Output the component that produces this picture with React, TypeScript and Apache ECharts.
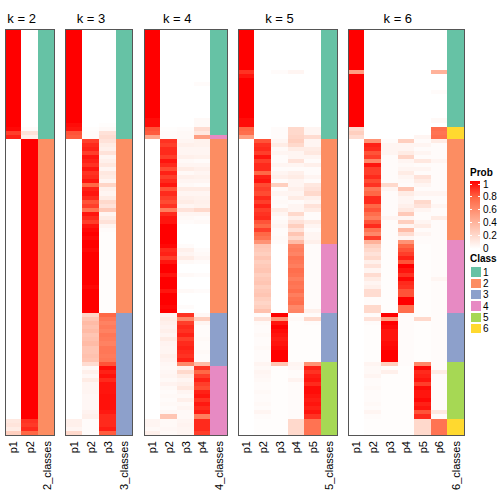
import React, { useEffect, useRef } from "react";
import * as echarts from "echarts";

const FONT = "'Liberation Sans', Arial, Helvetica, sans-serif";

// ---- data (rows share the same sample order across panels) ----
const k2p1 = [
  1,1,1,1,1,1,1,1,1,1, 1,1,1,1,1,1,1,1,1,1,
  1,1,1,1,0.98,0.85,0.92,0,0,0, 0,0,0,0,0,0,0,0,0,0,
  0,0,0,0,0,0,0,0,0,0, 0,0,0,0,0,0,0,0,0,0,
  0,0,0,0,0,0,0,0,0,0, 0,0,0,0,0,0,0,0,0,0,
  0,0,0,0,0,0,0,0,0,0, 0,0,0,0,0,0,0.12,0.14,0.1,0.25];
const k2p2 = [
  0,0,0,0,0,0,0,0,0,0, 0,0,0,0,0,0,0,0,0,0,
  0,0,0,0,0.02,0.15,0.08,1,1,1, 1,1,1,1,1,1,1,1,1,1,
  1,1,1,1,1,1,1,1,1,1, 1,1,1,1,1,1,1,1,1,1,
  1,1,1,1,1,1,1,1,1,1, 1,1,1,1,1,1,1,1,1,1,
  1,1,1,1,1,1,1,1,1,1, 1,1,1,1,1,1,0.88,0.86,0.9,0.75];
const k2cls = [
  1,1,1,1,1,1,1,1,1,1, 1,1,1,1,1,1,1,1,1,1,
  1,1,1,1,1,1,1,2,2,2, 2,2,2,2,2,2,2,2,2,2,
  2,2,2,2,2,2,2,2,2,2, 2,2,2,2,2,2,2,2,2,2,
  2,2,2,2,2,2,2,2,2,2, 2,2,2,2,2,2,2,2,2,2,
  2,2,2,2,2,2,2,2,2,2, 2,2,2,2,2,2,2,2,2,2];

const k3p1 = [
  1,1,1,1,1,1,1,1,1,1, 1,1,1,1,1,1,1,1,1,1,
  1,1,1,0.97,0.95,0.8,0.78,0,0,0, 0,0,0,0,0,0,0,0,0,0,
  0,0,0,0,0,0,0,0,0,0, 0,0,0,0,0,0,0,0,0,0,
  0,0,0,0,0,0,0,0,0,0, 0,0,0,0,0,0,0,0,0,0,
  0,0,0,0,0,0,0,0,0,0, 0,0,0,0,0,0,0.08,0.08,0.05,0.2];
const k3p2 = [
  0,0,0,0,0,0,0,0,0,0, 0,0,0,0,0,0,0,0,0,0,
  0,0,0,0,0.01,0.02,0.02,0.85,0.9,0.92, 0.85,0.95,0.92,0.88,0.95,0.88,0.9,0.95,0.75,0.92,
  0.95,0.9,0.8,0.85,0.7,0.95,0.9,0.85,0.95,0.98, 1,0.98,1,1,0.98,1,1,1,1,1,
  1,1,1,0.98,1,1,1,1,1,1, 0.22,0.3,0.35,0.32,0.35,0.3,0.32,0.35,0.3,0.3,
  0.32,0.3,0.18,0.03,0.08,0.04,0.1,0.05,0.05,0.05, 0.04,0.04,0.04,0.04,0.06,0.08,0.02,0.02,0.02,0.02];
const k3p3 = [
  0,0,0,0,0,0,0,0,0,0, 0,0,0,0,0,0,0,0,0,0,
  0,0,0,0.01,0.03,0.15,0.18,0.15,0.1,0.08, 0.15,0.05,0.08,0.12,0.05,0.12,0.1,0.05,0.22,0.08,
  0.05,0.1,0.2,0.15,0.28,0.05,0.1,0.15,0.05,0.02, 0.01,0.01,0.01,0.01,0.01,0.01,0.01,0.01,0.01,0.01,
  0.01,0.01,0.01,0.01,0.01,0.01,0.01,0.01,0.01,0.01, 0.75,0.68,0.63,0.66,0.63,0.68,0.66,0.63,0.68,0.68,
  0.66,0.68,0.8,0.97,0.92,0.96,0.9,0.95,0.95,0.95, 0.96,0.96,0.96,0.96,0.94,0.9,0.9,0.9,0.93,0.78];
const k3cls = [
  1,1,1,1,1,1,1,1,1,1, 1,1,1,1,1,1,1,1,1,1,
  1,1,1,1,1,1,1,2,2,2, 2,2,2,2,2,2,2,2,2,2,
  2,2,2,2,2,2,2,2,2,2, 2,2,2,2,2,2,2,2,2,2,
  2,2,2,2,2,2,2,2,2,2, 3,3,3,3,3,3,3,3,3,3,
  3,3,3,3,3,3,3,3,3,3, 3,3,3,3,3,3,3,3,3,3];

const k4p1 = [
  1,1,1,1,1,1,1,1,1,1, 1,1,1,1,1,1,1,1,1,1,
  1,1,0.97,0.97,0.8,0.78,0.45,0,0,0, 0,0,0,0,0,0,0,0,0,0,
  0,0,0,0,0,0,0,0,0,0, 0,0,0,0,0,0,0,0,0,0,
  0,0,0,0,0,0,0,0,0,0, 0,0,0,0,0,0,0,0,0,0,
  0,0,0,0,0,0,0,0,0,0, 0,0,0,0,0,0,0.05,0.05,0.03,0.08];
const k4p2 = [
  0,0,0,0,0,0,0,0,0,0, 0,0,0,0,0,0,0,0,0,0,
  0,0,0,0,0.01,0.02,0.02,0.88,0.85,0.9, 0.9,0.85,0.95,0.9,0.82,0.92,0.85,0.9,0.95,0.8,
  0.9,0.85,0.82,0.88,0.65,0.9,0.95,0.95,1,1, 1,1,1,0.98,0.9,0.92,0.85,0.95,1,1,
  0.95,1,1,1,0.95,1,1,1,0.98,1, 0.06,0.1,0.08,0.06,0.08,0.05,0.1,0.06,0.05,0.05,
  0.08,0.06,0.04,0.03,0.04,0.05,0.03,0.06,0.03,0.02, 0.03,0.02,0.03,0.02,0.04,0.3,0.03,0.03,0.04,0.03];
const k4p3 = [
  0,0,0,0,0,0,0,0,0,0, 0,0,0,0,0,0,0,0,0,0,
  0,0,0,0,0.02,0.03,0.03,0.05,0.08,0.05, 0.05,0.08,0.03,0.05,0.1,0.03,0.08,0.05,0.03,0.1,
  0.05,0.08,0.1,0.05,0.15,0.05,0.03,0.02,0,0, 0,0,0,0.02,0.08,0.05,0.1,0.03,0,0,
  0.03,0,0,0,0.03,0,0,0,0.02,0, 0.88,0.6,0.85,0.9,0.88,0.92,0.85,0.9,0.92,0.9,
  0.88,0.92,0.6,0.08,0.2,0.1,0.05,0.08,0.12,0.05, 0.03,0.08,0.03,0.05,0.03,0.03,0.05,0.06,0.05,0.05];
const k4p4 = [
  0,0,0,0,0,0,0,0,0,0, 0,0,0,0.02,0,0,0,0,0,0,
  0,0,0.03,0.03,0.18,0.12,0.5,0.07,0.07,0.05, 0.05,0.07,0.02,0.05,0.08,0.05,0.07,0.05,0.02,0.1,
  0.05,0.07,0.08,0.07,0.2,0.05,0.02,0.03,0,0, 0,0,0,0,0.02,0.03,0.05,0.02,0,0,
  0.02,0,0,0,0.02,0,0,0,0,0, 0.04,0.25,0.05,0.02,0.02,0.02,0.03,0.02,0.02,0.03,
  0.02,0.02,0.35,0.88,0.75,0.85,0.92,0.85,0.82,0.92, 0.95,0.88,0.94,0.9,0.93,0.65,0.9,0.9,0.9,0.85];
const k4cls = [
  1,1,1,1,1,1,1,1,1,1, 1,1,1,1,1,1,1,1,1,1,
  1,1,1,1,1,1,4,2,2,2, 2,2,2,2,2,2,2,2,2,2,
  2,2,2,2,2,2,2,2,2,2, 2,2,2,2,2,2,2,2,2,2,
  2,2,2,2,2,2,2,2,2,2, 3,3,3,3,3,3,3,3,3,3,
  3,3,3,4,4,4,4,4,4,4, 4,4,4,4,4,4,4,4,4,4];

const k5p1 = [
  1,1,1,1,1,1,1,1,1,1, 0.88,0.95,1,1,1,1,1,1,1,1,
  1,1,0.97,0.97,0.75,0.72,0.5,0,0,0, 0,0,0,0,0,0,0,0,0,0,
  0,0,0,0,0,0,0,0,0,0, 0,0,0,0,0,0,0,0,0,0,
  0,0,0,0,0,0,0,0,0,0, 0,0,0,0,0,0,0,0,0,0,
  0,0,0,0,0,0,0,0,0,0, 0,0,0,0,0,0,0,0,0,0];
const k5p2 = [
  0,0,0,0,0,0,0,0,0,0, 0,0,0,0,0,0,0,0,0,0,
  0,0,0,0,0,0,0,0.8,0.88,0.9, 0.85,0.95,0.85,0.9,0.9,0.75,0.92,0.95,0.82,0.85,
  0.82,0.9,0.85,0.92,0.85,0.88,0.9,0.8,0.75,0.85, 0.75,0.7,0.55,0.3,0.28,0.25,0.3,0.25,0.28,0.3,
  0.25,0.28,0.3,0.25,0.28,0.3,0.25,0.22,0.25,0.32, 0.02,0.15,0.03,0.02,0.02,0.03,0.02,0.02,0.03,0.02,
  0.02,0.02,0.05,0.03,0.05,0.04,0.03,0.02,0.02,0.03, 0.02,0.02,0.03,0.02,0.05,0.02,0.01,0.01,0.01,0.01];
const k5p3 = [
  0,0,0,0,0,0,0,0,0,0, 0.02,0,0,0,0,0,0,0,0,0,
  0,0,0,0,0.02,0.02,0.02,0.05,0.1,0.03, 0.05,0.02,0.02,0.05,0.02,0.05,0.08,0.02,0.25,0.02,
  0.05,0.02,0.03,0.02,0.1,0.05,0.02,0.03,0.05,0.02, 0.02,0.03,0.02,0,0,0,0,0,0,0,
  0,0,0,0,0,0,0,0,0,0, 1,0.55,0.95,1,0.97,0.95,0.93,0.95,0.97,1,
  1,1,0.3,0.01,0.01,0.01,0.01,0.01,0.01,0.01, 0.01,0.01,0.01,0.01,0.01,0.01,0.01,0.01,0.01,0.01];
const k5p4 = [
  0,0,0,0,0,0,0,0,0,0, 0.05,0,0,0,0,0,0,0,0,0,
  0,0,0,0,0.2,0.2,0.22,0.25,0.2,0.1, 0.05,0.05,0.15,0.05,0.02,0.08,0.1,0.05,0.05,0.08,
  0.05,0.1,0.02,0.05,0.05,0.2,0.08,0.15,0.25,0.15, 0.3,0.2,0.35,0.62,0.65,0.62,0.7,0.68,0.65,0.72,
  0.7,0.65,0.7,0.68,0.72,0.65,0.7,0.72,0.6,0.62, 0.01,0.03,0.01,0.01,0.01,0.01,0.01,0.01,0.01,0.01,
  0.01,0.01,0.05,0.04,0.02,0.02,0.06,0.02,0.02,0.02, 0.02,0.02,0.02,0.02,0.02,0.02,0.2,0.2,0.2,0.2];
const k5p5 = [
  0,0,0,0,0,0,0,0,0,0, 0,0,0,0,0,0,0,0,0,0,
  0,0,0,0,0.05,0.05,0.18,0.05,0.05,0.1, 0.12,0.05,0.02,0.08,0.02,0.02,0.05,0.02,0.12,0.15,
  0.2,0.08,0.05,0.15,0.1,0.02,0.02,0.1,0.05,0.02, 0.05,0.05,0.08,0.02,0.02,0.02,0.02,0.02,0.02,0.02,
  0.02,0.02,0.02,0.02,0.02,0.02,0.02,0.02,0.02,0.08, 0.02,0.2,0.02,0.01,0.01,0.01,0.01,0.01,0.01,0.01,
  0.01,0.01,0.55,0.92,0.88,0.93,0.95,0.9,0.97,0.97, 0.95,0.93,0.95,0.92,0.95,0.88,0.7,0.7,0.7,0.7];
const k5cls = [
  1,1,1,1,1,1,1,1,1,1, 1,1,1,1,1,1,1,1,1,1,
  1,1,1,1,1,1,1,2,2,2, 2,2,2,2,2,2,2,2,2,2,
  2,2,2,2,2,2,2,2,2,2, 2,2,2,4,4,4,4,4,4,4,
  4,4,4,4,4,4,4,4,4,4, 3,3,3,3,3,3,3,3,3,3,
  3,3,5,5,5,5,5,5,5,5, 5,5,5,5,5,5,5,5,5,5];

const k6p1 = [
  1,1,1,1,1,1,1,1,1,1, 0.5,1,1,1,1,1,1,1,1,1,
  1,1,1,1,0.2,0.25,0.18,0,0,0, 0,0,0,0,0,0,0,0,0,0,
  0,0,0,0,0,0,0,0,0,0, 0,0,0,0,0,0,0,0,0,0,
  0,0,0,0,0,0,0,0,0,0, 0,0,0,0,0,0,0,0,0,0,
  0,0,0,0,0,0,0,0,0,0, 0,0,0,0,0,0,0,0,0,0];
const k6p2 = [
  0,0,0,0,0,0,0,0,0,0, 0,0,0,0,0,0,0,0,0,0,
  0,0,0,0,0,0,0,0.55,0.92,0.9, 0.8,0.85,0.6,0.95,0.85,0.85,0.9,0.82,0.88,0.68,
  0.75,0.9,0.9,0.75,0.8,0.72,0.65,0.8,0.9,0.7, 0.6,0.85,0.4,0.25,0.2,0.15,0.2,0.08,0.15,0.05,
  0.18,0.1,0.05,0.08,0.18,0.18,0.02,0.02,0.2,0.2, 0.02,0.15,0.02,0.01,0.01,0.01,0.01,0.01,0.01,0.01,
  0.01,0.01,0.05,0.03,0.03,0.05,0.02,0.02,0.03,0.02, 0.02,0.02,0.03,0.02,0.05,0.02,0.01,0.01,0.01,0.01];
const k6p3 = [
  0,0,0,0,0,0,0,0,0,0, 0,0,0,0,0,0,0,0,0,0,
  0,0,0,0,0,0,0,0.02,0.05,0.05, 0.05,0.02,0.02,0.02,0.02,0.02,0.02,0.02,0.2,0.05,
  0.02,0.02,0.02,0.02,0.02,0.02,0.05,0.02,0.02,0.02, 0.02,0.02,0.01,0.01,0.01,0.01,0.01,0.01,0.01,0.01,
  0.01,0.01,0.01,0.01,0.01,0.01,0.01,0.01,0.01,0.01, 1,0.5,1,0.98,0.95,0.95,0.95,0.97,0.98,1,
  1,1,0.25,0.01,0.08,0.01,0.01,0.01,0.01,0.01, 0.01,0.01,0.01,0.01,0.01,0.01,0.01,0.01,0.01,0.01];
const k6p4 = [
  0,0,0,0,0,0,0,0,0,0, 0,0,0,0,0,0,0,0,0,0,
  0,0,0,0,0,0,0,0.25,0.05,0.05, 0.1,0.22,0.05,0.03,0.05,0.1,0.05,0.03,0.02,0.3,
  0.1,0.05,0.05,0.08,0.12,0.28,0.05,0.25,0.05,0.35, 0.18,0.05,0.55,0.75,0.8,0.85,0.92,0.8,1,0.95,
  0.88,0.98,0.9,0.88,0.8,0.8,1,1,0.72,0.72, 0.02,0.02,0.02,0.02,0.02,0.02,0.02,0.02,0.02,0.02,
  0.02,0.02,0.02,0.01,0.01,0.01,0.01,0.01,0.01,0.01, 0.01,0.01,0.01,0.01,0.01,0.01,0.01,0.01,0.01,0.01];
const k6p5 = [
  0,0,0,0,0,0,0,0,0,0, 0,0,0,0,0,0,0,0,0,0,
  0,0,0,0,0,0,0.05,0.02,0.05,0.02, 0.05,0.02,0.12,0.02,0.05,0.02,0.15,0.1,0.05,0.02,
  0.05,0.02,0.2,0.15,0.05,0.02,0.02,0.05,0.1,0.02, 0.05,0.02,0.02,0.01,0.01,0.01,0.01,0.01,0.01,0.01,
  0.01,0.01,0.01,0.01,0.01,0.01,0.01,0.01,0.01,0.01, 0.01,0.2,0.01,0.01,0.01,0.01,0.01,0.01,0.01,0.01,
  0.01,0.01,0.6,0.98,0.9,0.92,0.95,0.85,0.97,0.95, 0.95,0.98,0.92,0.95,0.8,0.9,0.2,0.2,0.2,0.2];
const k6p6 = [
  0,0,0,0,0,0,0,0,0,0, 0.4,0,0,0,0,0.02,0,0,0,0,
  0,0,0.03,0,0.72,0.7,0.72,0.1,0.02,0.02, 0.02,0.02,0.05,0.02,0.02,0.02,0.02,0.02,0.02,0.02,
  0.05,0.02,0.02,0.05,0.02,0.02,0.1,0.02,0.02,0.02, 0.02,0.02,0.02,0.02,0.02,0.02,0.02,0.02,0.02,0.02,
  0.02,0.05,0.02,0.02,0.02,0.02,0.02,0.02,0.02,0.02, 0.02,0.02,0.02,0.02,0.02,0.02,0.02,0.02,0.02,0.02,
  0.02,0.02,0.02,0.02,0.1,0.02,0.02,0.02,0.02,0.02, 0.02,0.02,0.02,0.02,0.12,0.02,0.7,0.7,0.7,0.7];
const k6cls = [
  1,1,1,1,1,1,1,1,1,1, 1,1,1,1,1,1,1,1,1,1,
  1,1,1,1,6,6,6,2,2,2, 2,2,2,2,2,2,2,2,2,2,
  2,2,2,2,2,2,2,2,2,2, 2,2,4,4,4,4,4,4,4,4,
  4,4,4,4,4,4,4,4,4,4, 3,3,3,3,3,3,3,3,3,3,
  3,3,5,5,5,5,5,5,5,5, 5,5,5,5,5,5,6,6,6,6];

const PANEL_K = [2, 3, 4, 5, 6];
const PANEL_TITLES = ["k = 2", "k = 3", "k = 4", "k = 5", "k = 6"];
const PANEL_COLS = [
  [k2p1, k2p2],
  [k3p1, k3p2, k3p3],
  [k4p1, k4p2, k4p3, k4p4],
  [k5p1, k5p2, k5p3, k5p4, k5p5],
  [k6p1, k6p2, k6p3, k6p4, k6p5, k6p6],
];
const PANEL_CLASSES = [k2cls, k3cls, k4cls, k5cls, k6cls];
const PROB_TICKS = ["1", "0.8", "0.6", "0.4", "0.2", "0"];
const CLASS_LABELS = ["1", "2", "3", "4", "5", "6"];
const CLASS_COLORS = ["#66C2A5", "#FC8D62", "#8DA0CB", "#E78AC3", "#A6D854", "#FFD92F"];
const PROB_COLORS = ["#FFFFFF", "#FFCFBF", "#FF9E81", "#FF6846", "#FF0000"];

// ---- layout ----
const PANEL_LEFT = [5, 66, 144, 238, 348];
const CELL_W = 16.6;
const GRID_TOP = 29.5;
const GRID_H = 405.5;

export default function App() {
  const ref = useRef<HTMLDivElement>(null);

  useEffect(() => {
    if (!ref.current) return;
    const chart = echarts.init(ref.current, undefined, { renderer: "svg" });
    const nRows = k2p1.length;
    const rowCats = Array.from({ length: nRows }, (_, i) => String(i));

    const grids: any[] = [];
    const xAxes: any[] = [];
    const yAxes: any[] = [];
    const series: any[] = [];
    const probIdx: number[] = [];
    const clsIdx: number[] = [];
    const graphics: any[] = [];

    const textStyle = (text: string, size: number, align: string, bold = false) => ({
      text,
      fontSize: size,
      fontWeight: bold ? "bold" : "normal",
      fontFamily: FONT,
      fill: "#000",
      align,
      verticalAlign: "middle",
      textAlign: align,
      textVerticalAlign: "middle",
    });

    PANEL_K.forEach((k, j) => {
      const width = CELL_W * (k + 1);
      const left = PANEL_LEFT[j];
      grids.push({ left, top: GRID_TOP, width, height: GRID_H, containLabel: false });
      const labels = PANEL_COLS[j].map((_, c) => "p" + (c + 1)).concat([k + "_classes"]);
      xAxes.push({
        type: "category",
        gridIndex: j,
        data: labels,
        position: "bottom",
        axisLine: { show: false },
        axisTick: { show: false },
        splitLine: { show: false },
        axisLabel: {
          rotate: 90,
          interval: 0,
          margin: 6,
          fontSize: 11,
          color: "#000",
          fontFamily: FONT,
        },
      });
      yAxes.push({
        type: "category",
        gridIndex: j,
        data: rowCats,
        inverse: true,
        show: false,
      });
      const probData: any[] = [];
      PANEL_COLS[j].forEach((arr, c) => {
        arr.forEach((v, r) => probData.push([c, r, v]));
      });
      probIdx.push(series.length);
      series.push({
        type: "heatmap",
        xAxisIndex: j,
        yAxisIndex: j,
        data: probData,
        itemStyle: { borderWidth: 0 },
        emphasis: { disabled: true },
      });
      clsIdx.push(series.length);
      series.push({
        type: "heatmap",
        xAxisIndex: j,
        yAxisIndex: j,
        data: PANEL_CLASSES[j].map((v, r) => [k, r, v]),
        itemStyle: { borderWidth: 0 },
        emphasis: { disabled: true },
      });
      graphics.push({
        type: "rect",
        shape: { x: left, y: GRID_TOP, width, height: GRID_H },
        style: { fill: null, stroke: "#555", lineWidth: 1 },
        z: 100,
        silent: true,
      });
      graphics.push({
        type: "text",
        x: left + (CELL_W * k) / 2,
        y: 18,
        style: textStyle(PANEL_TITLES[j], 13, "center"),
        z: 100,
      });
    });

    // Prob legend
    const lx = 470;
    graphics.push({
      type: "text",
      x: lx,
      y: 172,
      style: textStyle("Prob", 10, "left", true),
      z: 100,
    });
    const barTop = 181;
    const barBot = 249;
    graphics.push({
      type: "rect",
      shape: { x: lx, y: barTop, width: 10, height: barBot - barTop },
      style: {
        fill: new echarts.graphic.LinearGradient(0, 0, 0, 1, [
          { offset: 0, color: PROB_COLORS[4] },
          { offset: 0.25, color: PROB_COLORS[3] },
          { offset: 0.5, color: PROB_COLORS[2] },
          { offset: 0.75, color: PROB_COLORS[1] },
          { offset: 1, color: PROB_COLORS[0] },
        ]),
      },
      z: 100,
    });
    PROB_TICKS.forEach((t, i) => {
      const y = 184 + i * 12.8;
      graphics.push({
        type: "line",
        shape: { x1: lx, y1: y, x2: lx + 2, y2: y },
        style: { stroke: "#fff", lineWidth: 1 },
        z: 101,
      });
      graphics.push({
        type: "line",
        shape: { x1: lx + 8, y1: y, x2: lx + 10, y2: y },
        style: { stroke: "#fff", lineWidth: 1 },
        z: 101,
      });
      graphics.push({
        type: "text",
        x: lx + 13,
        y,
        style: textStyle(t, 10, "left"),
        z: 100,
      });
    });
    // Class legend
    graphics.push({
      type: "text",
      x: lx,
      y: 258.5,
      style: textStyle("Class", 10, "left", true),
      z: 100,
    });
    CLASS_LABELS.forEach((lab, i) => {
      const y = 267.3 + i * 11.35;
      graphics.push({
        type: "rect",
        shape: { x: lx + 0.7, y, width: 10, height: 9.4 },
        style: { fill: CLASS_COLORS[i] },
        z: 100,
      });
      graphics.push({
        type: "text",
        x: lx + 13,
        y: y + 4.7,
        style: textStyle(lab, 10, "left"),
        z: 100,
      });
    });

    chart.setOption({
      animation: false,
      grid: grids,
      xAxis: xAxes,
      yAxis: yAxes,
      visualMap: [
        {
          type: "continuous",
          show: false,
          min: 0,
          max: 1,
          dimension: 2,
          seriesIndex: probIdx,
          inRange: { color: PROB_COLORS },
        },
        {
          type: "piecewise",
          show: false,
          dimension: 2,
          seriesIndex: clsIdx,
          pieces: CLASS_COLORS.map((c, i) => ({ value: i + 1, color: c })),
        },
      ],
      series,
      graphic: graphics,
    });

    return () => chart.dispose();
  }, []);

  return (
    <>
      <style>{`.hm-chart svg path, .hm-chart svg rect { shape-rendering: crispEdges; }`}</style>
      <div
        ref={ref}
        className="hm-chart"
        style={{ position: "fixed", left: 0, top: 0, width: 504, height: 504, background: "#fff" }}
      />
    </>
  );
}
